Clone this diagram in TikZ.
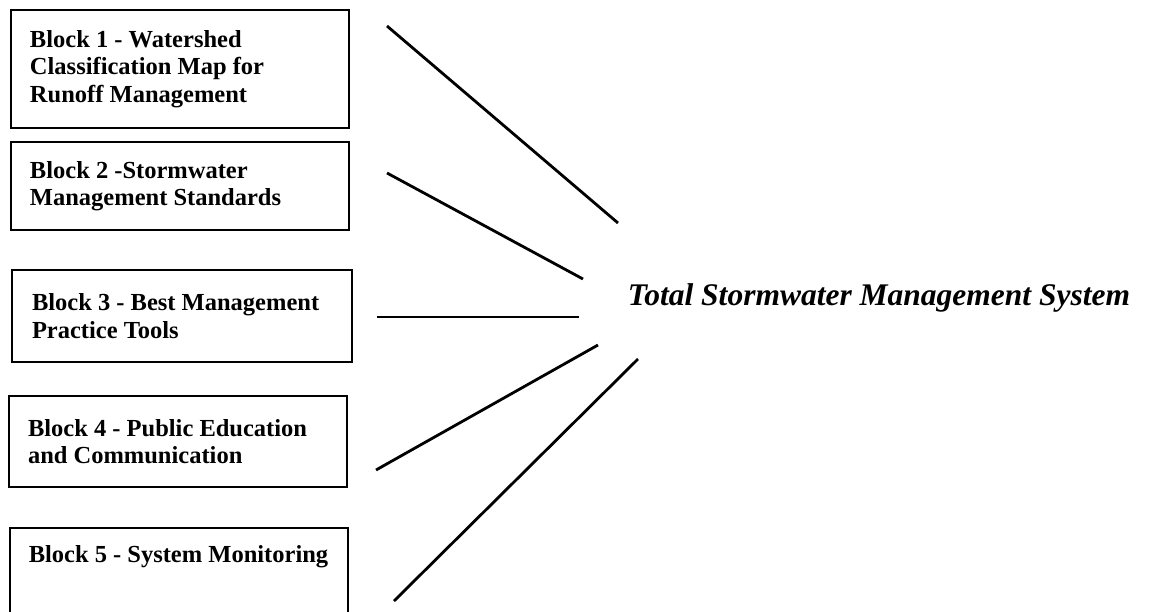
\documentclass[tikz,border=0pt]{standalone}
\usepackage{fontspec}
\setmainfont{Liberation Serif}
\tikzset{
  blockbox/.style = {draw, line width = 1.5pt, text width = 300pt, align = flush left,
    inner xsep = 19pt, inner ysep = 4pt, minimum width = 336pt,
    font = \fontsize{24.5}{27.5}\selectfont\bfseries},
  spoke/.style = {line width = 2.8pt},
  systitle/.style = {anchor = base, inner sep = 0pt,
    font = \fontsize{31.5}{36}\selectfont\bfseries\itshape}
}
\begin{document}
\begin{tikzpicture}[x = 1pt, y = -1pt]
      \useasboundingbox (0, 0) rectangle (1152, 611);
      \clip (0, 0) rectangle (1152, 611);
      \node[blockbox, minimum height = 118pt] (b1) at (180, 69) {Block 1 - Watershed\\Classification Map for\\Runoff Management};
      \node[blockbox, minimum height = 88pt] (b2) at (180, 186) {Block 2 -Stormwater\\Management Standards};
      \node[blockbox, minimum height = 92pt, minimum width = 340pt] (b3) at (182, 316) {Block 3 - Best Management\\Practice Tools};
      \node[blockbox, minimum height = 91pt] (b4) at (178, 441.5) {Block 4 - Public Education\\and Communication};
      \node[blockbox, anchor = north west, inner ysep = 18pt, text depth = 41pt] (b5) at (9, 527) {Block 5 - System Monitoring};
      \node[systitle] (tsms) at (879, 305) {Total Stormwater Management System};
      \coordinate (l1) at (387, 26);  \coordinate (r1) at (618, 223);
      \coordinate (l2) at (387, 173); \coordinate (r2) at (583, 279);
      \coordinate (l3) at (377, 317); \coordinate (r3) at (579, 317);
      \coordinate (l4) at (376, 470); \coordinate (r4) at (598, 345);
      \coordinate (l5) at (394, 601); \coordinate (r5) at (638, 359);
      \draw[spoke] (l1) -- (r1);
      \draw[spoke] (l2) -- (r2);
      \draw[spoke] (l3) -- (r3);
      \draw[spoke] (l4) -- (r4);
      \draw[spoke] (l5) -- (r5);
    \end{tikzpicture}
\end{document}
